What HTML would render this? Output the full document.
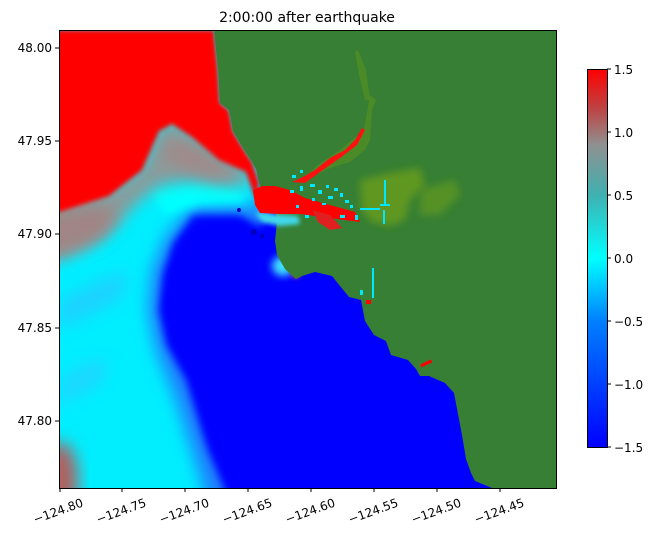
<!DOCTYPE html>
<html><head><meta charset="utf-8"><style>
html,body{margin:0;padding:0;background:#fff;}
svg{display:block;font-family:"DejaVu Sans","Liberation Sans",sans-serif;}
</style></head><body>
<svg width="658" height="540" viewBox="0 0 658 540" xmlns="http://www.w3.org/2000/svg">
<defs>
<filter id="b8" x="-30%" y="-30%" width="160%" height="160%"><feGaussianBlur stdDeviation="8"/></filter>
<filter id="b4" x="-30%" y="-30%" width="160%" height="160%"><feGaussianBlur stdDeviation="4"/></filter>
<filter id="b2" x="-30%" y="-30%" width="160%" height="160%"><feGaussianBlur stdDeviation="2"/></filter>
<clipPath id="pc"><rect x="59" y="30" width="497" height="458"/></clipPath>
<linearGradient id="cb" x1="0" y1="1" x2="0" y2="0">
<stop offset="0" stop-color="#0000ff"/>
<stop offset="0.333" stop-color="#0080ff"/>
<stop offset="0.5" stop-color="#00ffff"/>
<stop offset="0.667" stop-color="#40b0b0"/>
<stop offset="0.8" stop-color="#909090"/>
<stop offset="0.9" stop-color="#c04040"/>
<stop offset="1" stop-color="#ff0000"/>
</linearGradient>
</defs>
<text x="307" y="22" font-size="14" text-anchor="middle">2:00:00 after earthquake</text>
<g clip-path="url(#pc)">
<rect x="59" y="30" width="497" height="458" fill="#0000ff"/>
<polygon points="30,20 270,20 272,215 259,226 239,214 192,214 172,243 162,275 158,310 166,345 186,380 207,448 224,488 230,520 30,520" fill="#1a7dff" filter="url(#b4)"/>
<polygon points="30,20 265,20 262,205 239,206 192,206 166,236 152,270 148,310 156,350 176,400 195,460 210,510 30,520" fill="#00eeff" filter="url(#b8)"/>
<polygon points="150,190 200,182 240,190 245,202 200,204 165,215" fill="#00ffff" filter="url(#b4)"/>
<polygon points="59,300 100,280 130,270 120,300 80,320 59,330" fill="#30c0ff" opacity="0.6" filter="url(#b8)"/>
<polygon points="59,380 90,360 110,360 100,385 70,400 59,410" fill="#30c8ff" opacity="0.6" filter="url(#b8)"/>
<polygon points="40,205 110,190 142,167 159,127 172,120 192,133 219,157 246,167 250,185 220,185 190,180 160,185 140,200 110,230 80,250 40,265" fill="#8c9a9a" filter="url(#b8)"/>
<polygon points="40,215 100,205 120,215 100,240 60,255 40,255" fill="#a08585" filter="url(#b8)"/>
<polygon points="165,140 195,145 225,165 240,175 215,178 185,170 165,160" fill="#a08a8a" filter="url(#b8)"/>
<polygon points="40,30 214,30 218,69 220,103 229,110 233,131 243,148 252,162 259,183 256,200 246,172 219,160 192,137 172,124 159,131 142,170 109,196 59,212 40,214" fill="#ff0000" filter="url(#b2)"/>
<ellipse cx="60" cy="480" rx="18" ry="38" fill="#b06060" filter="url(#b8)"/>
<circle cx="239" cy="210" r="2" fill="#0000c0"/><circle cx="254" cy="232" r="3" fill="#0000c0"/><circle cx="262" cy="236" r="2" fill="#0000c0"/>
<ellipse cx="283" cy="266" rx="11" ry="10" fill="#40e0ff" filter="url(#b4)"/>
<ellipse cx="296" cy="272" rx="5" ry="6" fill="#e04040" filter="url(#b2)"/>
<!-- land -->
<polygon points="214,30 556,30 556,488 492,488 475,481 471,473 466,459 462,435 458,414 454,393 445,383 429,376 420,376 416,369 408,360 391,355 386,341 374,335 365,321 361,300 349,297 340,286 332,276 315,272 302,276 296,279 285,269 277,255 275,241 277,221 275,207 269,200 260,186 256,169 252,162 243,148 233,131 229,110 220,103 218,69" fill="#367f34"/>
<polygon points="360,180 395,172 420,168 425,185 410,200 405,220 390,226 372,222 362,210" fill="#6a9e1c" opacity="0.8" filter="url(#b4)"/>
<polygon points="420,190 455,180 460,195 440,215 420,215" fill="#6a9e1c" opacity="0.6" filter="url(#b4)"/>
<polygon points="300,182 330,168 350,162 365,150 370,140 372,110 376,100 370,95 364,130 340,150 318,165" fill="#5a9320" opacity="0.6"/>
<polygon points="358,50 366,70 370,100 365,100 359,75 355,52" fill="#5a9320" opacity="0.6"/>
<!-- estuary mouth cyan fringe -->
<polygon points="255,212 275,214 298,216 300,224 280,226 262,222" fill="#40d8e8" filter="url(#b2)"/>
<!-- estuary red -->
<polygon points="253,190 262,186 275,186 290,190 305,198 330,205 355,212 360,222 330,218 300,214 280,214 260,213 255,205" fill="#ff0000"/>
<polygon points="292,182 305,176 315,170 330,158 345,150 355,140 362,128 365,130 357,145 340,158 320,172 305,183" fill="#ff1010"/>
<polygon points="312,210 330,215 342,228 330,230 318,222" fill="#e02020"/>
<g fill="#00e8ff">
<rect x="290" y="190" width="4" height="3"/><rect x="300" y="186" width="3" height="5"/><rect x="310" y="184" width="5" height="3"/>
<rect x="318" y="190" width="4" height="4"/><rect x="326" y="185" width="3" height="3"/><rect x="334" y="188" width="4" height="3"/>
<rect x="340" y="193" width="3" height="4"/><rect x="328" y="196" width="5" height="3"/><rect x="312" y="198" width="3" height="3"/>
<rect x="345" y="200" width="4" height="3"/><rect x="350" y="205" width="3" height="3"/><rect x="322" y="203" width="4" height="2"/>
<rect x="296" y="205" width="3" height="3"/><rect x="305" y="215" width="4" height="3"/><rect x="340" y="215" width="5" height="3"/>
<rect x="355" y="215" width="3" height="5"/><rect x="292" y="175" width="4" height="3"/><rect x="300" y="170" width="3" height="3"/>
<rect x="360" y="208" width="20" height="2"/><rect x="380" y="204" width="10" height="2"/><rect x="384" y="180" width="2" height="25"/>
<rect x="383" y="210" width="2" height="14"/><rect x="372" y="268" width="2" height="30"/><rect x="360" y="290" width="3" height="5"/>
</g>
<rect x="420" y="362" width="12" height="3" fill="#ff0000" transform="rotate(-25 426 363)"/>
<rect x="366" y="300" width="5" height="4" fill="#ff0000"/>
</g>
<rect x="59.5" y="30.5" width="497" height="458" fill="none" stroke="#000" stroke-width="1"/>
<g font-size="12" text-anchor="end">
<line x1="55" y1="48" x2="59" y2="48" stroke="#000"/><text x="52" y="52">48.00</text>
<line x1="55" y1="141" x2="59" y2="141" stroke="#000"/><text x="52" y="145">47.95</text>
<line x1="55" y1="234" x2="59" y2="234" stroke="#000"/><text x="52" y="238">47.90</text>
<line x1="55" y1="328" x2="59" y2="328" stroke="#000"/><text x="52" y="332">47.85</text>
<line x1="55" y1="421" x2="59" y2="421" stroke="#000"/><text x="52" y="425">47.80</text>
</g>
<g stroke="#000">
<line x1="60" y1="488" x2="60" y2="492"/><line x1="122" y1="488" x2="122" y2="492"/><line x1="185" y1="488" x2="185" y2="492"/><line x1="248" y1="488" x2="248" y2="492"/><line x1="311" y1="488" x2="311" y2="492"/><line x1="374" y1="488" x2="374" y2="492"/><line x1="437" y1="488" x2="437" y2="492"/><line x1="500" y1="488" x2="500" y2="492"/>
</g>
<g font-size="12" text-anchor="end">
<text transform="translate(84,506) rotate(-20)">−124.80</text>
<text transform="translate(147,506) rotate(-20)">−124.75</text>
<text transform="translate(210,506) rotate(-20)">−124.70</text>
<text transform="translate(273,506) rotate(-20)">−124.65</text>
<text transform="translate(336,506) rotate(-20)">−124.60</text>
<text transform="translate(399,506) rotate(-20)">−124.55</text>
<text transform="translate(462,506) rotate(-20)">−124.50</text>
<text transform="translate(525,506) rotate(-20)">−124.45</text>
</g>
<rect x="587" y="69" width="20" height="378" fill="url(#cb)"/>
<rect x="587.5" y="69.5" width="20" height="378" fill="none" stroke="#000"/>
<g font-size="12">
<line x1="607" y1="69" x2="611" y2="69" stroke="#000"/><text x="614" y="74">1.5</text>
<line x1="607" y1="132" x2="611" y2="132" stroke="#000"/><text x="614" y="137">1.0</text>
<line x1="607" y1="195" x2="611" y2="195" stroke="#000"/><text x="614" y="200">0.5</text>
<line x1="607" y1="258" x2="611" y2="258" stroke="#000"/><text x="614" y="263">0.0</text>
<line x1="607" y1="321" x2="611" y2="321" stroke="#000"/><text x="614" y="326">−0.5</text>
<line x1="607" y1="384" x2="611" y2="384" stroke="#000"/><text x="614" y="389">−1.0</text>
<line x1="607" y1="447" x2="611" y2="447" stroke="#000"/><text x="614" y="452">−1.5</text>
</g>
</svg>
</body></html>
